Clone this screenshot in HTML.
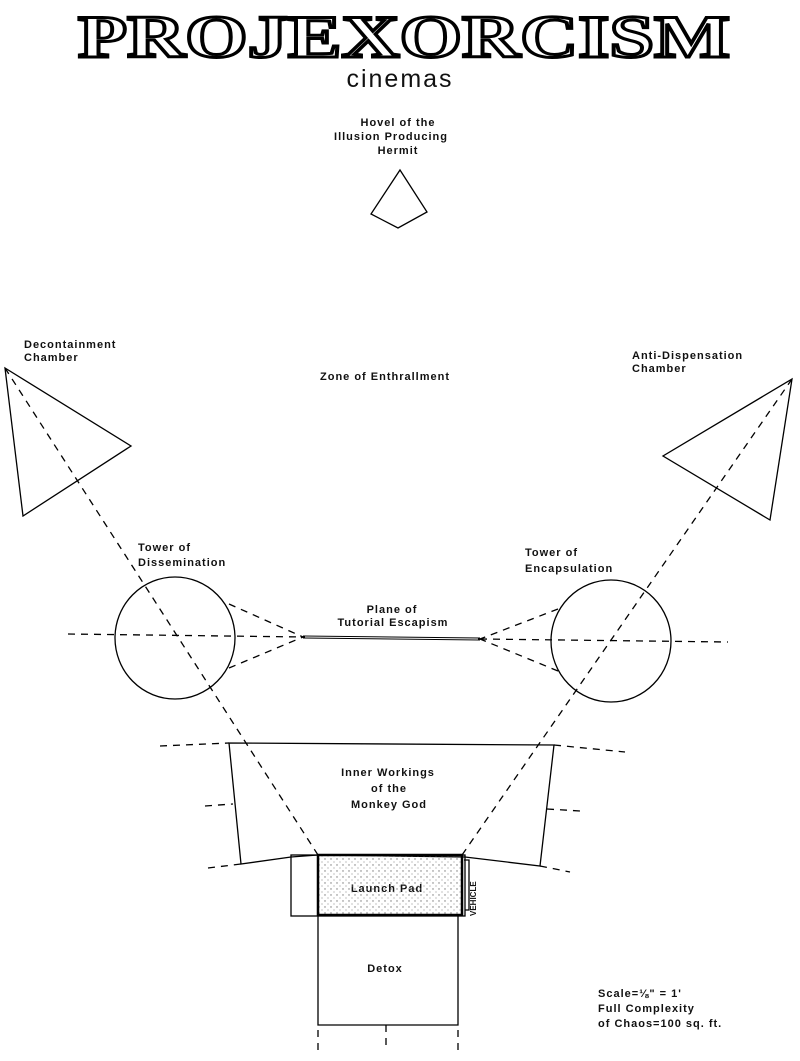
<!DOCTYPE html>
<html><head><meta charset="utf-8"><style>
html,body{margin:0;padding:0;background:#fff}
body{width:800px;height:1061px;position:relative;overflow:hidden}
svg{position:absolute;left:0;top:0}
text{font-family:"Liberation Sans",sans-serif;fill:#111}
</style></head><body>
<svg width="800" height="1061" viewBox="0 0 800 1061">
<defs>
<pattern id="dots" width="6" height="6" patternUnits="userSpaceOnUse">
<circle cx="1" cy="1" r="0.7" fill="#777"/><circle cx="4" cy="4" r="0.6" fill="#999"/>
</pattern>
</defs>
<text x="78" y="57" textLength="652" lengthAdjust="spacingAndGlyphs" font-weight="bold" font-size="60" style="font-family:'Liberation Serif',serif;fill:#fff;stroke:#000;stroke-width:3">PROJEXORCISM</text>
<text x="400" y="87" text-anchor="middle" font-size="25" letter-spacing="2">cinemas</text>

<g font-size="11" font-weight="bold" letter-spacing="1" text-anchor="middle">
<text x="398" y="126">Hovel of the</text>
<text x="391" y="140">Illusion Producing</text>
<text x="398" y="154">Hermit</text>
<text x="385" y="380">Zone of Enthrallment</text>
<text x="392" y="613">Plane of</text>
<text x="393" y="626">Tutorial Escapism</text>
<text x="388" y="776">Inner Workings</text>
<text x="389" y="792">of the</text>
<text x="389" y="808">Monkey God</text>
<text x="387" y="892">Launch Pad</text>
<text x="385" y="972">Detox</text>
</g>
<g font-size="11" font-weight="bold" letter-spacing="1">
<text x="24" y="348">Decontainment</text>
<text x="24" y="361">Chamber</text>
<text x="632" y="359">Anti-Dispensation</text>
<text x="632" y="372">Chamber</text>
<text x="138" y="551">Tower of</text>
<text x="138" y="566">Dissemination</text>
<text x="525" y="556">Tower of</text>
<text x="525" y="572">Encapsulation</text>
<text x="598" y="997">Scale=⅛" = 1'</text>
<text x="598" y="1012">Full Complexity</text>
<text x="598" y="1027">of Chaos=100 sq. ft.</text>
</g>

<g fill="none" stroke="#000" stroke-width="1.3">
<polygon points="400,170 427,212 398,228 371,214"/>
<polygon points="5,368 131,446 23,516"/>
<polygon points="792,379 663,456 770,520"/>
<ellipse cx="175" cy="638" rx="60" ry="61"/>
<ellipse cx="611" cy="641" rx="60" ry="61"/>
<polygon points="229,743 554,745 540,866 465,857 318,855 291,857 241,864"/>
<rect x="291" y="855" width="174" height="61"/>
<rect x="318" y="855" width="144" height="60" fill="url(#dots)" stroke-width="2.5"/>
<polyline points="318,915 318,1025 458,1025 458,915"/>
<path d="M464,860 h5 v50 h-4"/>
</g>
<line x1="303" y1="637" x2="480" y2="639" stroke="#000" stroke-width="3"/>
<line x1="305" y1="637" x2="478" y2="639" stroke="#fff" stroke-width="1"/>
<text x="0" y="0" font-size="8" font-weight="bold" transform="translate(476,916) rotate(-90)">VEHICLE</text>

<g fill="none" stroke="#000" stroke-width="1.3" stroke-dasharray="7,6">
<line x1="5" y1="368" x2="318" y2="855"/>
<line x1="792" y1="379" x2="462" y2="855"/>
<line x1="68" y1="634" x2="303" y2="637"/>
<line x1="480" y1="639" x2="728" y2="642"/>
<line x1="229" y1="604" x2="303" y2="637"/>
<line x1="229" y1="668" x2="303" y2="637"/>
<line x1="558" y1="609" x2="480" y2="639"/>
<line x1="558" y1="671" x2="480" y2="639"/>
<line x1="160" y1="746" x2="229" y2="743"/>
<line x1="554" y1="745" x2="625" y2="752"/>
<line x1="205" y1="806" x2="233" y2="804"/>
<line x1="547" y1="809" x2="580" y2="811"/>
<line x1="208" y1="868" x2="241" y2="864"/>
<line x1="540" y1="866" x2="570" y2="872"/>
<line x1="318" y1="1030" x2="318" y2="1050"/>
<line x1="386" y1="1025" x2="386" y2="1050"/>
<line x1="458" y1="1030" x2="458" y2="1050"/>
</g>
</svg>
</body></html>
